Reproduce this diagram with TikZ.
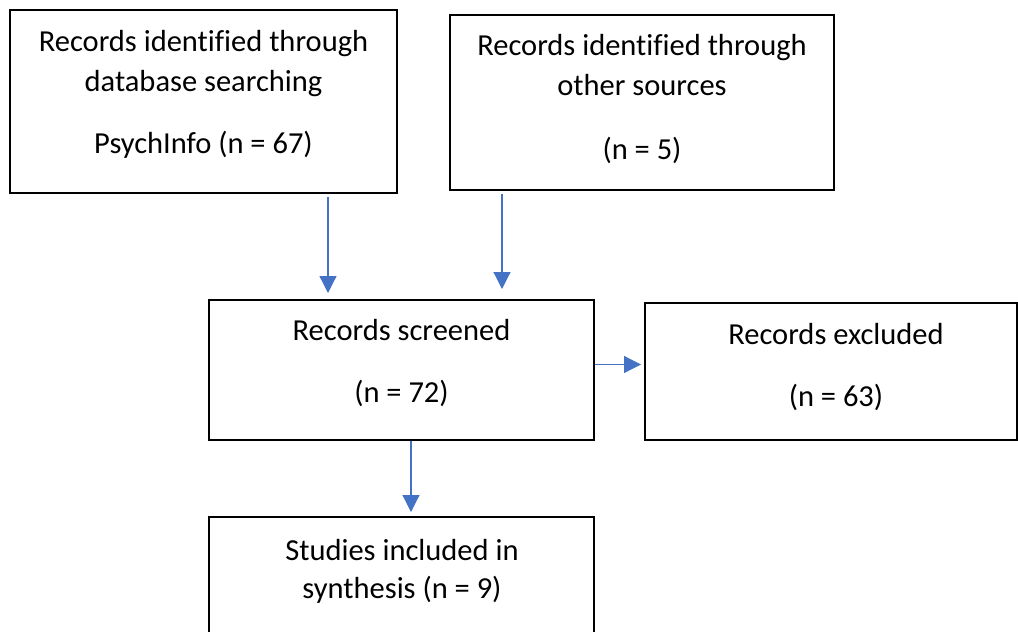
\documentclass[tikz,border=0pt]{standalone}
\usepackage{fontspec}
\setmainfont{Carlito}[Ligatures=NoCommon]
\usetikzlibrary{arrows.meta}
\definecolor{arrowblue}{HTML}{4472C4}
\tikzset{
  box/.style={draw=black, line width=2pt, fill=none, inner sep=0pt},
  txt/.style={anchor=base, inner sep=0pt, font=\fontsize{30.5}{36}\selectfont},
  flow/.style={draw=arrowblue, line width=1.2pt, -{Triangle[width=17pt,length=17pt]}}
}
\begin{document}
\begin{tikzpicture}[x=1pt,y=-1pt]
\useasboundingbox (0,0) rectangle (1018,632);
\clip (0,0) rectangle (1018,632);
% boxes
\node[box, minimum width=387pt, minimum height=183pt] (b1) at (203.5,101.5) {};
\node[box, minimum width=384pt, minimum height=175pt] (b2) at (642,102.5) {};
\node[box, minimum width=385pt, minimum height=140pt] (b3) at (401.5,370) {};
\node[box, minimum width=372pt, minimum height=137pt] (b4) at (831,371.5) {};
\node[box, minimum width=385pt, minimum height=140pt] (b5) at (401.5,587) {};
% texts
\node[txt] (t11) at (203.5,51) {Records identified through};
\node[txt] (t12) at (203.5,91) {database searching};
\node[txt] (t13) at (203.5,153) {PsychInfo (n = 67)};
\node[txt] (t21) at (642,55) {Records identified through};
\node[txt] (t22) at (642,95) {other sources};
\node[txt] (t23) at (642,159) {(n = 5)};
\node[txt] (t31) at (401.5,340) {Records screened};
\node[txt] (t32) at (401.5,402) {(n = 72)};
\node[txt] (t41) at (836,344) {Records excluded};
\node[txt] (t42) at (836,406) {(n = 63)};
\node[txt] (t51) at (402,560) {Studies included in};
\node[txt] (t52) at (402,598) {synthesis (n = 9)};
% connectors
\coordinate (a1s) at (328,197);
\coordinate (a1e) at (328,293);
\coordinate (a2s) at (502,194);
\coordinate (a2e) at (502,289);
\coordinate (a3s) at (595,364.5);
\coordinate (a3e) at (641,364.5);
\coordinate (a4s) at (411,441);
\coordinate (a4e) at (411,512);
\draw[flow] (a1s) -- (a1e);
\draw[flow] (a2s) -- (a2e);
\draw[flow] (a3s) -- (a3e);
\draw[flow] (a4s) -- (a4e);
\end{tikzpicture}
\end{document}
